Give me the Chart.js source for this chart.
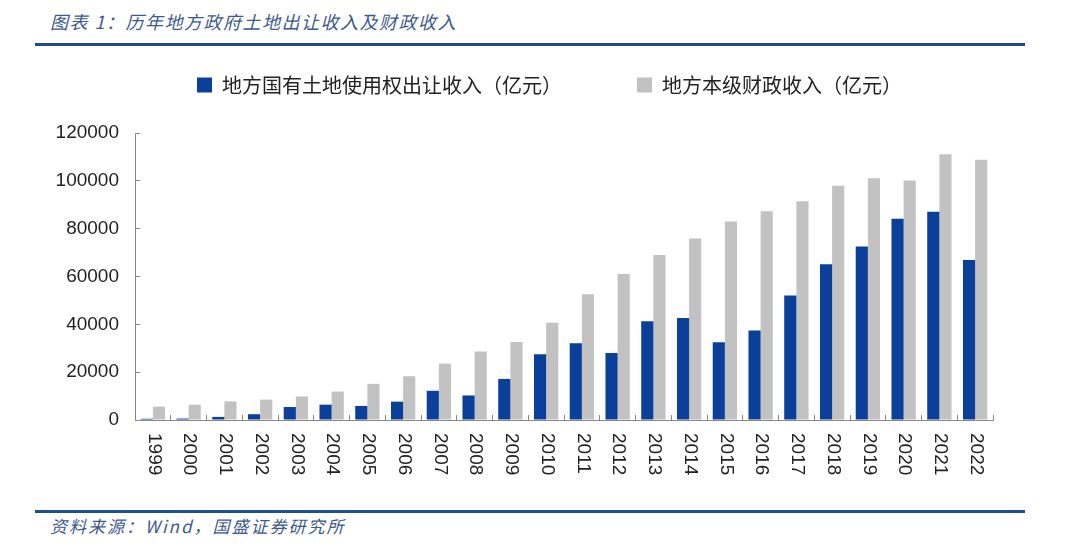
<!DOCTYPE html>
<html>
<head>
<meta charset="utf-8">
<script src="https://cdn.jsdelivr.net/npm/chart.js@4/dist/chart.umd.min.js"></script>
<style>
  html, body { margin: 0; padding: 0; background: #fff; }
  body { width: 1080px; height: 557px; position: relative; overflow: hidden; font-family: "Noto Sans CJK SC", sans-serif; }
  .title { position: absolute; left: 50px; top: 8px; font-size: 18px; letter-spacing: 1.5px; font-style: italic; color: #3d5a8e; }
  .rule { position: absolute; left: 35px; width: 990px; height: 3px; background: #1f4d8f; }
  .source { position: absolute; left: 50px; top: 513px; font-size: 17px; letter-spacing: 2px; font-style: italic; color: #3d5a8e; }
  #wrap { position: absolute; left: 0; top: -5px; width: 1080px; height: 495px; }
</style>
</head>
<body>
<div class="title">图表 1：历年地方政府土地出让收入及财政收入</div>
<div class="rule" style="top:43px"></div>
<div id="wrap"><canvas id="c"></canvas></div>
<div class="rule" style="top:510px"></div>
<div class="source">资料来源：Wind，国盛证券研究所</div>
<script>
// 年份
var years = ["1999", "2000", "2001", "2002", "2003", "2004", "2005", "2006", "2007", "2008", "2009", "2010",
             "2011", "2012", "2013", "2014", "2015", "2016", "2017", "2018", "2019", "2020", "2021", "2022"];
// 地方国有土地使用权出让收入（亿元）
var landSales = [514, 596, 1296, 2417, 5421, 6412, 5884, 7677, 12217, 10260, 17180, 27464,
                 32126, 28042, 41250, 42606, 32547, 37457, 52059, 65096, 72517, 84142, 87051, 66854];
// 地方本级财政收入（亿元）
var localRevenue = [5595, 6406, 7803, 8515, 9850, 11893, 15101, 18304, 23573, 28650, 32603, 40613,
                    52547, 61078, 69011, 75877, 83002, 87239, 91469, 97903, 101080, 100143, 111084, 108818];
// y轴刻度
var yTicks = [0, 20000, 40000, 60000, 80000, 100000, 120000];

// 图例高度固定，让绘图区顶部对齐；图例放在绘图区上方居中
var legendBox = {
    id: "legendBox",
    beforeInit: function (chart) {
        var fit = chart.legend.fit;
        chart.legend.fit = function () {
            fit.call(this);
            this.height = 138;
        };
    },
    afterLayout: function (chart) {
        chart.legend.left = 106;
        chart.legend.right = chart.chartArea.right;
        chart.legend.top += 5;
    }
};

// x轴标签顺时针竖排
var verticalLabels = {
    id: "verticalLabels",
    afterDraw: function (chart) {
        var ctx = chart.ctx;
        var xs = chart.scales.x;
        ctx.save();
        ctx.font = "19px 'Liberation Sans', Arial, sans-serif";
        ctx.fillStyle = "#222";
        ctx.textAlign = "left";
        ctx.textBaseline = "middle";
        years.forEach(function (y, i) {
            ctx.save();
            ctx.translate(xs.getPixelForValue(i) + 1, xs.top + 13);
            ctx.rotate(Math.PI / 2);
            ctx.fillText(y, 0, 0);
            ctx.restore();
        });
        ctx.restore();
    }
};

new Chart(document.getElementById("c"), {
    type: "bar",
    data: {
        labels: years,
        datasets: [{
            label: "地方国有土地使用权出让收入（亿元）",
            data: landSales,
            backgroundColor: "#0a409a"
        }, {
            label: "地方本级财政收入（亿元）",
            data: localRevenue,
            backgroundColor: "#c2c2c2"
        }]
    },
    options: {
        responsive: true,
        maintainAspectRatio: false,
        animation: false,
        layout: { padding: { left: 0, right: 87, top: 0, bottom: 0 } },
        datasets: { bar: { categoryPercentage: 0.68, barPercentage: 1 } },
        plugins: {
            tooltip: { enabled: false },
            legend: {
                position: "top",
                labels: {
                    boxWidth: 15,
                    boxHeight: 15,
                    padding: 75,
                    color: "#222",
                    font: { family: "'Noto Sans CJK SC', sans-serif", size: 20 }
                }
            }
        },
        scales: {
            x: {
                grid: { display: true, drawOnChartArea: false, offset: true, tickLength: -5, color: "#888" },
                border: { color: "#888", width: 1 },
                ticks: { display: false },
                afterFit: function (s) { s.height = 70; }
            },
            y: {
                min: 0,
                max: 120000,
                afterBuildTicks: function (s) { s.ticks = yTicks.map(function (v) { return { value: v }; }); },
                grid: { display: true, drawOnChartArea: false, tickLength: -5, color: "#888" },
                border: { color: "#888", width: 1 },
                ticks: {
                    color: "#222",
                    padding: 21,
                    font: { family: "'Liberation Sans', Arial, sans-serif", size: 19 },
                    callback: function (v) { return String(v); }
                },
                afterFit: function (s) { s.width = 135; }
            }
        }
    },
    plugins: [legendBox, verticalLabels]
});
</script>
</body>
</html>
